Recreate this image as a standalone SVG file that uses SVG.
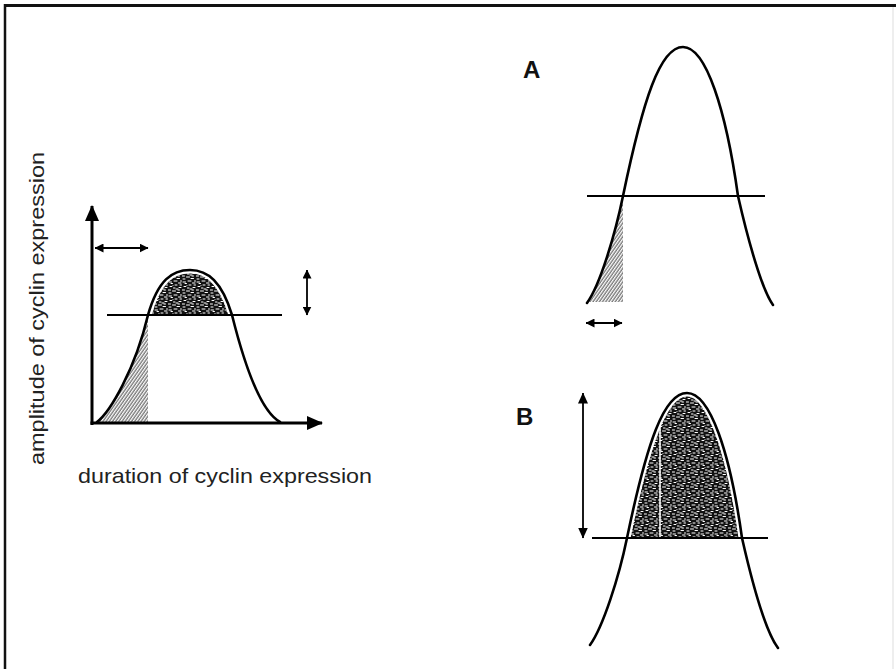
<svg xmlns="http://www.w3.org/2000/svg" width="896" height="669" viewBox="0 0 896 669">
<style>
.curve{fill:none;stroke:#000;stroke-width:2.6;stroke-linecap:round}
.gap{fill:none;stroke:#fff;stroke-width:7}
.thr{stroke:#000;stroke-width:1.8}
.axis{stroke:#000;stroke-width:3}
.dbl{stroke:#000;stroke-width:1.8}
.lbl{font-family:"Liberation Sans",Arial,sans-serif;fill:#222}
.big{font-family:"Liberation Sans",Arial,sans-serif;font-weight:bold;font-size:24px;fill:#111}
.stip{fill:url(#stip);stroke:none}
.hatch{fill:url(#hatch);stroke:none}
</style>
<defs>
<pattern id="stip" width="14" height="14" patternUnits="userSpaceOnUse">
<rect width="14" height="14" fill="#111"/>
<path d="M1,2h2.5 M6,1h3 M10.5,3h2.5 M2,6.5h2 l1,-1 M7,5h2 M11,7.5h2 M0,10h2.5 M4.5,11h3 M9,12.5h2.5 M3,3.5h1.5 M8,9h2 M12.5,1h1 M5.5,8h1.5 M10,10h1.5 M1,13h2 M12,5h1.5" stroke="#fff" stroke-width="1" fill="none" stroke-linecap="round"/>
</pattern>
<pattern id="hatch" width="2.6" height="10" patternUnits="userSpaceOnUse" patternTransform="rotate(35)">
<line x1="1" y1="0" x2="1" y2="10" stroke="#333" stroke-width="0.9"/>
</pattern>
<marker id="ax" viewBox="0 0 16 14" refX="15" refY="7" markerWidth="16" markerHeight="14" markerUnits="userSpaceOnUse" orient="auto">
<path d="M0,0 L16,7 L0,14 Z" fill="#000"/>
</marker>
<marker id="ah" viewBox="0 0 9 9" refX="8.5" refY="4.5" markerWidth="9" markerHeight="9" markerUnits="userSpaceOnUse" orient="auto-start-reverse">
<path d="M0,0 L9,4.5 L0,9 Z" fill="#000"/>
</marker>
<marker id="ahL" viewBox="0 0 11 10" refX="10.5" refY="5" markerWidth="11" markerHeight="10" markerUnits="userSpaceOnUse" orient="auto-start-reverse">
<path d="M0,0 L11,5 L0,10 Z" fill="#000"/>
</marker>
</defs>

<g id="frame">
<line x1="5" y1="5.5" x2="896" y2="5.5" stroke="#111" stroke-width="3"/>
<line x1="5" y1="4" x2="5" y2="669" stroke="#111" stroke-width="2.5"/>
<line x1="893" y1="7" x2="893" y2="669" stroke="#ddd" stroke-width="1"/>
</g>

<g id="left-chart">
<path class="hatch" d="M97,422 C110,412 135,370 148,315 L148,422 Z"/>
<path class="stip" d="M148,315 C158,280 172,270 190,270 C208,270 222,282 232,315 Z"/>
<path class="gap" d="M148,315 C158,280 172,270 190,270 C208,270 222,282 232,315"/>
<path class="curve" d="M97,422 C110,412 135,370 148,315 C158,280 172,270 190,270 C208,270 222,282 232,315 C242,355 258,410 280,422"/>
<line class="thr" x1="107" y1="315" x2="282" y2="315"/>
</g>

<g id="panel-A">
<path class="hatch" d="M587,303 C600,285 615,235 623,196 L623,302 L587,302 Z"/>
<path class="curve" d="M587,303 C600,285 615,235 623,196 C643,100 660,47 683,47 C706,47 726,110 738,196 C748,240 762,290 773,305"/>
<line class="thr" x1="587" y1="196" x2="765" y2="196"/>
<text class="big" x="523" y="78">A</text>
</g>

<g id="panel-B">
<path class="stip" d="M627,538 C647,442 664,393 687,393 C710,393 730,452 742,538 Z"/>
<path class="gap" d="M627,538 C647,442 664,393 687,393 C710,393 730,452 742,538"/>
<line x1="660" y1="413" x2="660" y2="537" stroke="#fff" stroke-width="1.5"/>
<path class="curve" d="M590,645 C603,627 619,577 627,538 C647,442 664,393 687,393 C710,393 730,452 742,538 C752,582 766,632 778,648"/>
<line class="thr" x1="592" y1="538" x2="768" y2="538"/>
<text class="big" x="516" y="425">B</text>
</g>

<g id="labels">
<text class="lbl" font-size="21" transform="translate(44,465) rotate(-90)" x="0" y="0" textLength="313" lengthAdjust="spacingAndGlyphs">amplitude of cyclin expression</text>
<text class="lbl" font-size="21" x="78" y="483" textLength="294" lengthAdjust="spacingAndGlyphs">duration of cyclin expression</text>
</g>

<g id="connectors">
<line class="axis" x1="92" y1="425" x2="92" y2="206" marker-end="url(#ax)"/>
<line class="axis" x1="90.5" y1="423" x2="322" y2="423" marker-end="url(#ax)"/>
<line class="dbl" x1="95" y1="248" x2="148" y2="248" marker-start="url(#ah)" marker-end="url(#ah)"/>
<line class="dbl" x1="307" y1="270" x2="307" y2="315" marker-start="url(#ah)" marker-end="url(#ah)"/>
<line class="dbl" x1="586" y1="323" x2="622" y2="323" marker-start="url(#ah)" marker-end="url(#ah)"/>
<line class="dbl" x1="583" y1="393" x2="583" y2="538" marker-start="url(#ahL)" marker-end="url(#ahL)"/>
</g>
</svg>
